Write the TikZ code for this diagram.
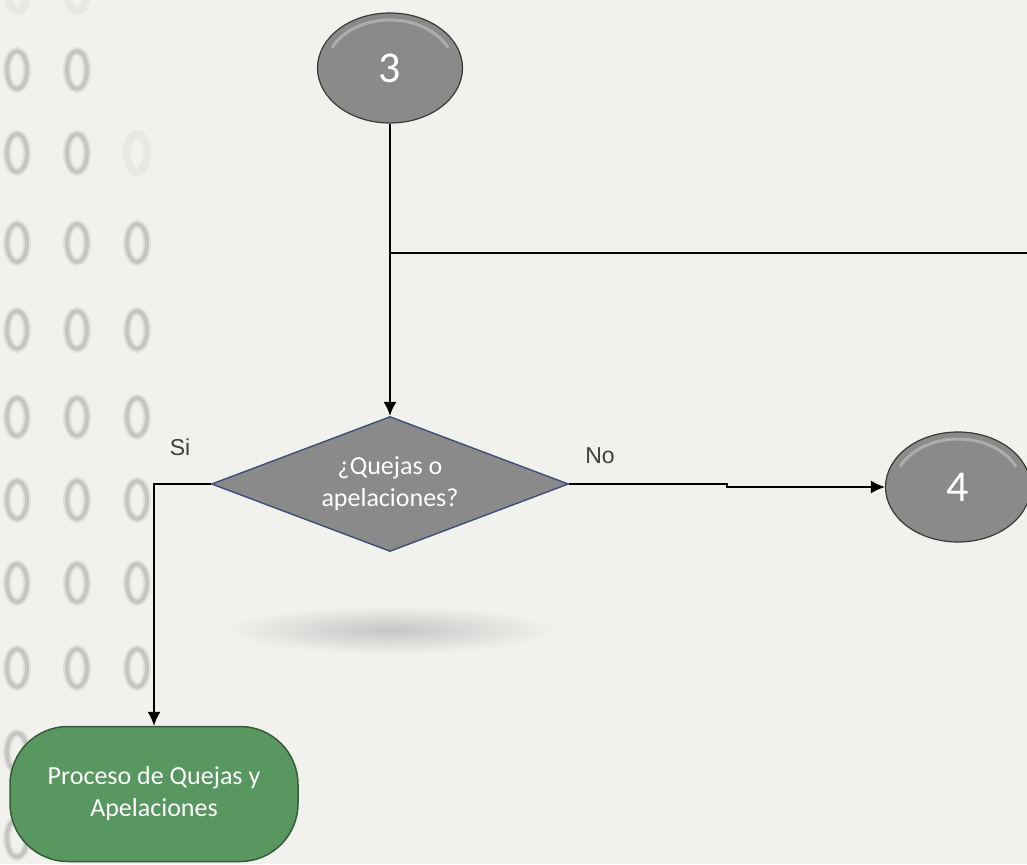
\documentclass[tikz,border=0pt]{standalone}
\usepackage{fontspec}
\setmainfont{Carlito}
\newfontfamily\labelfont{Liberation Sans}
\usetikzlibrary{shapes.geometric,arrows.meta}
\definecolor{bgc}{RGB}{241,242,237}
\definecolor{nodegray}{RGB}{138,138,138}
\definecolor{procgreen}{RGB}{89,151,96}
\definecolor{decedge}{RGB}{62,78,120}
\tikzset{
  connector/.style={line width=1.6pt,black},
  bubble/.style={ellipse,fill=nodegray,draw=gray!45!black,line width=1.2pt,
    minimum width=145pt,minimum height=110pt,inner sep=0pt,text=white,
    font=\fontsize{44}{44}\selectfont,
    path picture={\draw[white,opacity=0.3,line width=3pt]
      (path picture bounding box.center) ++(205:64 and 48)
      arc (205:335:64 and 48);}},
  decision/.style={diamond,fill=nodegray,draw=decedge,line width=1.4pt,
    aspect=2.64,minimum width=357pt,minimum height=135pt,inner sep=0pt,
    text=white,align=center,font=\fontsize{26}{32}\selectfont},
  process/.style={rectangle,rounded corners=58pt,fill=procgreen,
    draw=procgreen!60!black,line width=1.5pt,minimum width=288pt,
    minimum height=135pt,text=white,align=center,
    font=\fontsize{26}{32}\selectfont},
  branch/.style={text=black!75,font=\labelfont\fontsize{23}{23}\selectfont},
  deco/.style={draw=gray!75,opacity=0.2,line width=8pt},
  decocore/.style={draw=gray!85,opacity=0.35,line width=4pt}
}
\begin{document}
\begin{tikzpicture}[x=1pt,y=-1pt,>={Latex[length=14pt,width=13pt]}]
\useasboundingbox (0,0) rectangle (1027,864);
\fill[bgc] (0,0) rectangle (1027,864);
% faded pattern on the left
\foreach \y in {70,153,243,330,417,500,583,668,752,838}
  \foreach \x in {17,77} {
    \draw[deco] (\x,\y) ellipse (10 and 19);
    \draw[decocore] (\x,\y) ellipse (10 and 19);
  }
\foreach \y in {243,330,417,500,583,668} {
  \draw[deco] (137,\y) ellipse (10 and 19);
  \draw[decocore] (137,\y) ellipse (10 and 19);
}
\draw[deco,opacity=0.1] (137,153) ellipse (10 and 19);
\foreach \x in {17,77}
  \draw[deco,opacity=0.1] (\x,-8) ellipse (10 and 19);
% shadows
\shade[inner color=gray!45,outer color=bgc] (390,630) ellipse (165 and 24);
\shade[inner color=gray!12,outer color=bgc] (795,572) ellipse (80 and 12);
% nodes
\node (n3) at (390,68) [bubble] {3};
\node (dec) at (390,484) [decision] {¿Quejas o\\apelaciones?};
\node (n4) at (958,487) [bubble] {4};
\node (proc) at (154,794) [process] {Proceso de Quejas y\\Apelaciones};
\node (si) at (180,447) [branch] {Si};
\node (no) at (600,456) [branch] {No};
\coordinate (junc) at (390,253);
\coordinate (edge) at (1027,253);
\coordinate (jog) at (727,487);
% connectors
\draw[connector] (n3.south) -- (junc);
\draw[connector] (edge) -- (junc);
\draw[connector,->] (junc) -- (dec.north);
\draw[connector,->] (dec.west) -| (proc.north);
\draw[connector,->] (dec.east) -| (jog) |- (n4.west);
\end{tikzpicture}
\end{document}
